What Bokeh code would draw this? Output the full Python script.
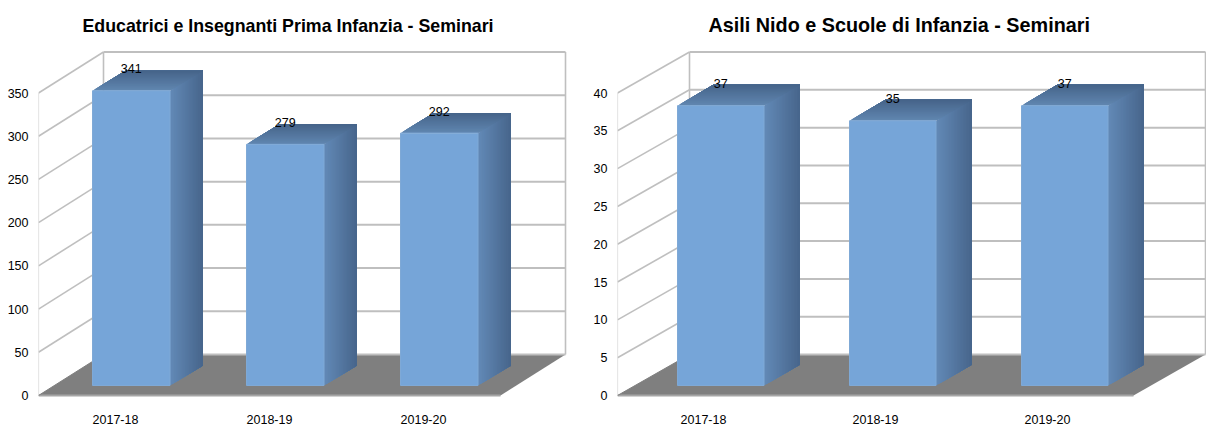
from bokeh.plotting import figure
from bokeh.layouts import row
from bokeh.models import Range1d, FixedTicker
from bokeh.core.properties import value
from bokeh.embed import file_html
from bokeh.resources import INLINE

categories = ["2017-18", "2018-19", "2019-20"]
title_left = "Educatrici e Insegnanti Prima Infanzia - Seminari"
title_right = "Asili Nido e Scuole di Infanzia - Seminari"
values_left = [341, 279, 292]
values_right = [37, 35, 37]
ticks_left = [0, 50, 100, 150, 200, 250, 300, 350]
ticks_right = [0, 5, 10, 15, 20, 25, 30, 35, 40]

FONT = "Liberation Sans"
GRID = "#bfbfbf"
FRONT = "#76a5d8"
FLOOR = "#7f7f7f"


def mix(a, b, t):
    return tuple(round(a[i] + (b[i] - a[i]) * t) for i in range(3))


def hexc(c):
    return "#%02x%02x%02x" % c


def chart(vals, ticks, title, page_left, fig_width, x0, floor_w, wall_dx, wall_dy,
          bar_off, bar_w, side_dx, side_dy, title_offset, title_size):
    top_px, zero_px, bottom_px = 45, 395, 398
    tmax = ticks[-1]
    ppu = 302.5 / tmax  # pixels per value unit
    border_left = x0 - page_left
    p = figure(width=fig_width, height=427, output_backend="svg", toolbar_location=None,
               x_range=Range1d(x0, page_left + fig_width),
               y_range=Range1d(-(bottom_px - zero_px) / ppu, (zero_px - top_px) / ppu),
               min_border_left=border_left, min_border_right=0,
               min_border_top=top_px, min_border_bottom=427 - bottom_px,
               title=title)
    p.title.text_font = FONT
    p.title.text_font_size = title_size
    p.title.text_font_style = "bold"
    p.title.text_color = "#000000"
    p.title.align = "left"
    p.title.offset = title_offset
    p.title.standoff = 19
    p.outline_line_color = None
    p.background_fill_color = None
    p.xgrid.visible = False
    p.ygrid.visible = False

    slot = floor_w / len(vals)
    p.xaxis.ticker = FixedTicker(ticks=[x0 + slot * (i + 0.5) for i in range(len(vals))])
    p.xaxis.major_label_overrides = {x0 + slot * (i + 0.5): c for i, c in enumerate(categories)}
    p.yaxis.ticker = FixedTicker(ticks=ticks)
    for ax in (p.xaxis[0], p.yaxis[0]):
        ax.axis_line_color = None
        ax.major_tick_line_color = None
        ax.minor_tick_line_color = None
        ax.major_tick_out = 0
        ax.major_tick_in = 0
        ax.minor_tick_out = 0
        ax.minor_tick_in = 0
        ax.major_label_text_font = FONT
        ax.major_label_text_font_size = "12.5px"
        ax.major_label_text_color = "#000000"
    p.xaxis.major_label_standoff = 16
    p.yaxis.major_label_standoff = 10

    wd = wall_dy / ppu
    # floor
    p.patch([x0, x0 + floor_w, x0 + floor_w + wall_dx, x0 + wall_dx],
            [0, 0, wd, wd], fill_color=FLOOR, line_color=None)
    # grid lines on side and back walls
    for t in ticks[1:]:
        p.line([x0, x0 + wall_dx], [t, t + wd], line_color=GRID, line_width=1.6)
        p.line([x0 + wall_dx, x0 + wall_dx + floor_w], [t + wd, t + wd], line_color=GRID, line_width=2)
    p.line([x0 + wall_dx, x0 + wall_dx + floor_w], [wd, wd], line_color=GRID, line_width=2)
    p.line([x0, x0], [0, tmax], line_color="#d0d0d0", line_width=1.2)
    p.line([x0 + wall_dx, x0 + wall_dx], [wd, tmax + wd], line_color=GRID, line_width=1.6)
    p.line([x0 + wall_dx + floor_w] * 2, [wd, tmax + wd], line_color=GRID, line_width=1.6)
    p.line([x0, x0 + floor_w], [0, 0], line_color="#a6a6a6", line_width=2)
    p.line([x0, x0 + wall_dx], [0, wd], line_color=FLOOR, line_width=1)

    base = 10 / ppu
    sd = side_dy / ppu
    n = 24
    side_a, side_b = (0x62, 0x89, 0xb6), (0x46, 0x64, 0x8a)
    top_a, top_b = (0x60, 0x86, 0xb0), (0x45, 0x63, 0x88)
    for i, v in enumerate(vals):
        l = x0 + slot * i + bar_off
        r = l + bar_w
        top = base + v
        for k in range(n):
            # each strip runs to the far edge, so later strips paint over it without seams
            t0 = k / n
            c = hexc(mix(side_a, side_b, t0))
            p.patch([r + side_dx * t0, r + side_dx, r + side_dx, r + side_dx * t0],
                    [base + sd * t0, base + sd, top + sd, top + sd * t0],
                    fill_color=c, line_color=None)
            c = hexc(mix(top_a, top_b, t0))
            p.patch([l + side_dx * t0, r + side_dx * t0, r + side_dx, l + side_dx],
                    [top + sd * t0, top + sd * t0, top + sd, top + sd],
                    fill_color=c, line_color=None)
        p.quad(left=l, right=r, bottom=base, top=top, fill_color=FRONT, line_color="#7fa9d6", line_width=1)
    p.text(x=[x0 + slot * i + bar_off + bar_w / 2 for i in range(len(vals))],
           y=[base + v + 22 / ppu for v in vals],
           text=[str(v) for v in vals],
           text_align="center", text_baseline="middle",
           text_font=value(FONT), text_font_size="12.5px", text_color="#000000")
    return p


left = chart(values_left, ticks_left, title_left, 0, 580, 38, 462, 65, 41, 54, 77.5, 33, 20, 44, "17.8px")
right = chart(values_right, ticks_right, title_right, 580, 626, 617, 516, 72, 41, 60, 86.5, 36, 21, 91, "19.8px")
layout = row(left, right, spacing=0)
open("out.html", "w").write(file_html(layout, INLINE))
